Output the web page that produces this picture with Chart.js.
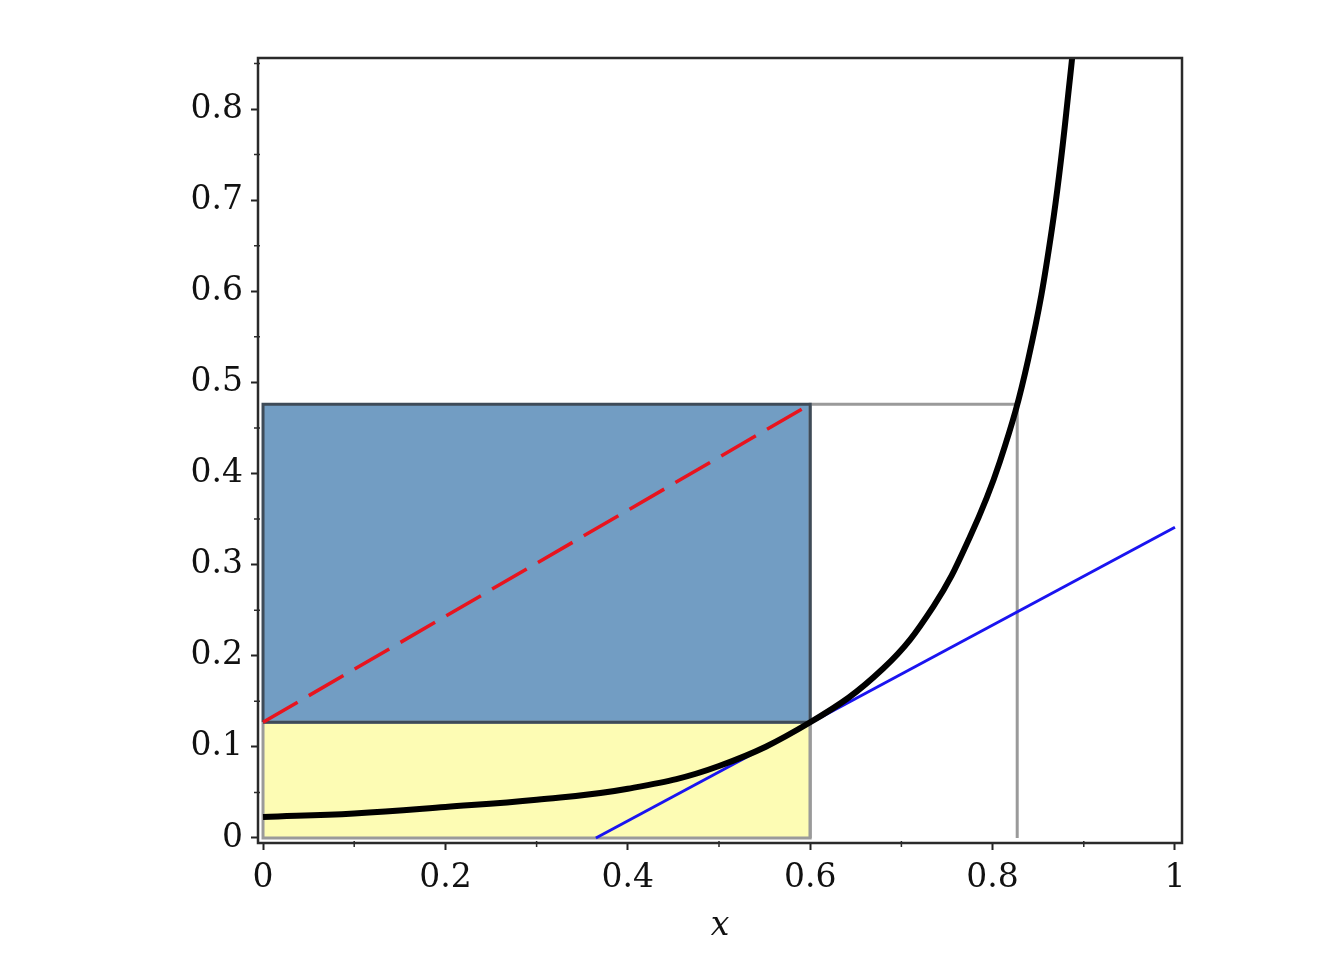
<!DOCTYPE html>
<html>
<head>
<meta charset="utf-8">
<script src="https://cdn.jsdelivr.net/npm/chart.js@4/dist/chart.umd.min.js"></script>
<style>
  body { margin: 0; background: #fff; }
  #wrap { width: 1344px; height: 960px; }
</style>
</head>
<body>
<div id="wrap"><canvas id="myChart" width="1344" height="960"></canvas></div>
<script>
'use strict';

// values
const curveX = [0, 0.1, 0.2, 0.3, 0.4, 0.5, 0.6, 0.68, 0.735, 0.775, 0.808, 0.839, 0.865, 0.885, 0.897];
const curveY = [0.023, 0.027, 0.034, 0.042, 0.054, 0.079, 0.127, 0.186, 0.254, 0.33, 0.413, 0.525, 0.668, 0.835, 0.96];
const tangentX = [0.365, 1.0];
const tangentY = [0, 0.341];
const chordX = [0, 0.6];
const chordY = [0.127, 0.476];
const rectEdgesX = [0, 0.6, 0.827];
const rectLevelsY = [0, 0.127, 0.476];

const xTickValues = [0, 0.2, 0.4, 0.6, 0.8, 1];
const xTickLabels = ['0', '0.2', '0.4', '0.6', '0.8', '1'];
const xMinorTicks = [0.1, 0.3, 0.5, 0.7, 0.9];
const yTickValues = [0, 0.1, 0.2, 0.3, 0.4, 0.5, 0.6, 0.7, 0.8];
const yTickLabels = ['0', '0.1', '0.2', '0.3', '0.4', '0.5', '0.6', '0.7', '0.8'];
const yMinorTicks = [0.05, 0.15, 0.25, 0.35, 0.45, 0.55, 0.65, 0.75, 0.85];

const pts = (xs, ys) => xs.map((x, i) => ({x: x, y: ys[i]}));

const colors = {
  blueFill: '#729dc3',
  yellowFill: '#fdfcb4',
  blueEdge: '#3e4b58',
  grayEdge: '#9a9a9a',
  frame: '#2a2a2a',
  red: '#e8141e',
  tangent: '#1a14f0'
};

const serif = "'DejaVu Serif', 'Liberation Serif', serif";

// box around the plot plus the small minor ticks
const framePlugin = {
  id: 'frame',
  afterDraw(chart) {
    const {ctx, chartArea: a, scales} = chart;
    ctx.save();
    ctx.strokeStyle = colors.frame;
    ctx.lineWidth = 2.5;
    ctx.strokeRect(a.left, a.top, a.right - a.left, a.bottom - a.top);
    ctx.lineWidth = 1.5;
    ctx.beginPath();
    yMinorTicks.forEach(v => {
      const py = scales.y.getPixelForValue(v);
      ctx.moveTo(a.left - 4, py);
      ctx.lineTo(a.left + 2, py);
    });
    xMinorTicks.forEach(v => {
      const px = scales.x.getPixelForValue(v);
      ctx.moveTo(px, a.bottom - 2);
      ctx.lineTo(px, a.bottom + 4);
    });
    ctx.stroke();
    ctx.restore();
  }
};

new Chart(document.getElementById('myChart'), {
  type: 'scatter',
  data: {
    datasets: [
      { // yellow box
        data: pts([rectEdgesX[0], rectEdgesX[1]], [rectLevelsY[1], rectLevelsY[1]]),
        showLine: true, borderWidth: 0, pointRadius: 0,
        fill: 'origin', backgroundColor: colors.yellowFill, order: 10
      },
      { // blue box
        data: pts([rectEdgesX[0], rectEdgesX[1]], [rectLevelsY[2], rectLevelsY[2]]),
        showLine: true, borderWidth: 0, pointRadius: 0,
        fill: '-1', backgroundColor: colors.blueFill, order: 9
      },
      { // outline of the right box
        data: pts([rectEdgesX[1], rectEdgesX[1], rectEdgesX[2], rectEdgesX[2]],
                  [rectLevelsY[0], rectLevelsY[2], rectLevelsY[2], rectLevelsY[0]]),
        showLine: true, borderColor: colors.grayEdge, borderWidth: 3, pointRadius: 0,
        fill: false, order: 8
      },
      { // outline of the yellow box
        data: pts([rectEdgesX[0], rectEdgesX[0], rectEdgesX[1], rectEdgesX[1], rectEdgesX[0]],
                  [rectLevelsY[1], rectLevelsY[0], rectLevelsY[0], rectLevelsY[1], rectLevelsY[1]]),
        showLine: true, borderColor: colors.grayEdge, borderWidth: 3, pointRadius: 0,
        fill: false, order: 7
      },
      { // outline of the blue box
        data: pts([rectEdgesX[0], rectEdgesX[0], rectEdgesX[1], rectEdgesX[1], rectEdgesX[0]],
                  [rectLevelsY[1], rectLevelsY[2], rectLevelsY[2], rectLevelsY[1], rectLevelsY[1]]),
        showLine: true, borderColor: colors.blueEdge, borderWidth: 3, pointRadius: 0,
        fill: false, order: 6
      },
      { // chord
        data: pts(chordX, chordY),
        showLine: true, borderColor: colors.red, borderWidth: 3.5, borderDash: [40, 13],
        pointRadius: 0, fill: false, order: 3
      },
      { // tangent
        data: pts(tangentX, tangentY),
        showLine: true, borderColor: colors.tangent, borderWidth: 3,
        pointRadius: 0, fill: false, order: 2
      },
      { // curve
        data: pts(curveX, curveY),
        showLine: true, borderColor: '#000', borderWidth: 6,
        tension: 0.4,
        pointRadius: 0, fill: false, order: 1
      }
    ]
  },
  options: {
    responsive: false,
    animation: false,
    layout: { padding: { top: 58, right: 162, left: 0, bottom: 0 } },
    plugins: { legend: { display: false }, tooltip: { enabled: false } },
    scales: {
      x: {
        type: 'linear',
        min: -0.0055,
        max: 1.0077,
        afterFit(scale) { scale.height = 117; },
        afterBuildTicks(scale) { scale.ticks = xTickValues.map(v => ({value: v})); },
        grid: {
          drawOnChartArea: false, drawTicks: true, tickLength: 7,
          tickColor: '#222', tickWidth: 2
        },
        border: { display: false },
        ticks: {
          color: '#111', padding: 9,
          font: { family: serif, size: 33 },
          maxRotation: 0, autoSkip: false,
          callback: (v) => xTickLabels[xTickValues.indexOf(v)]
        },
        title: {
          display: true, text: 'x', color: '#111', padding: { top: 0, bottom: 14 },
          font: { family: serif, size: 33, style: 'italic' }
        }
      },
      y: {
        type: 'linear',
        min: -0.0055,
        max: 0.856,
        afterFit(scale) { scale.width = 258; },
        afterBuildTicks(scale) { scale.ticks = yTickValues.map(v => ({value: v})); },
        grid: {
          drawOnChartArea: false, drawTicks: true, tickLength: 7,
          tickColor: '#222', tickWidth: 2
        },
        border: { display: false },
        ticks: {
          color: '#111', padding: 8,
          font: { family: serif, size: 33 },
          autoSkip: false,
          callback: (v) => yTickLabels[yTickValues.indexOf(v)]
        }
      }
    }
  },
  plugins: [framePlugin]
});
</script>
</body>
</html>
